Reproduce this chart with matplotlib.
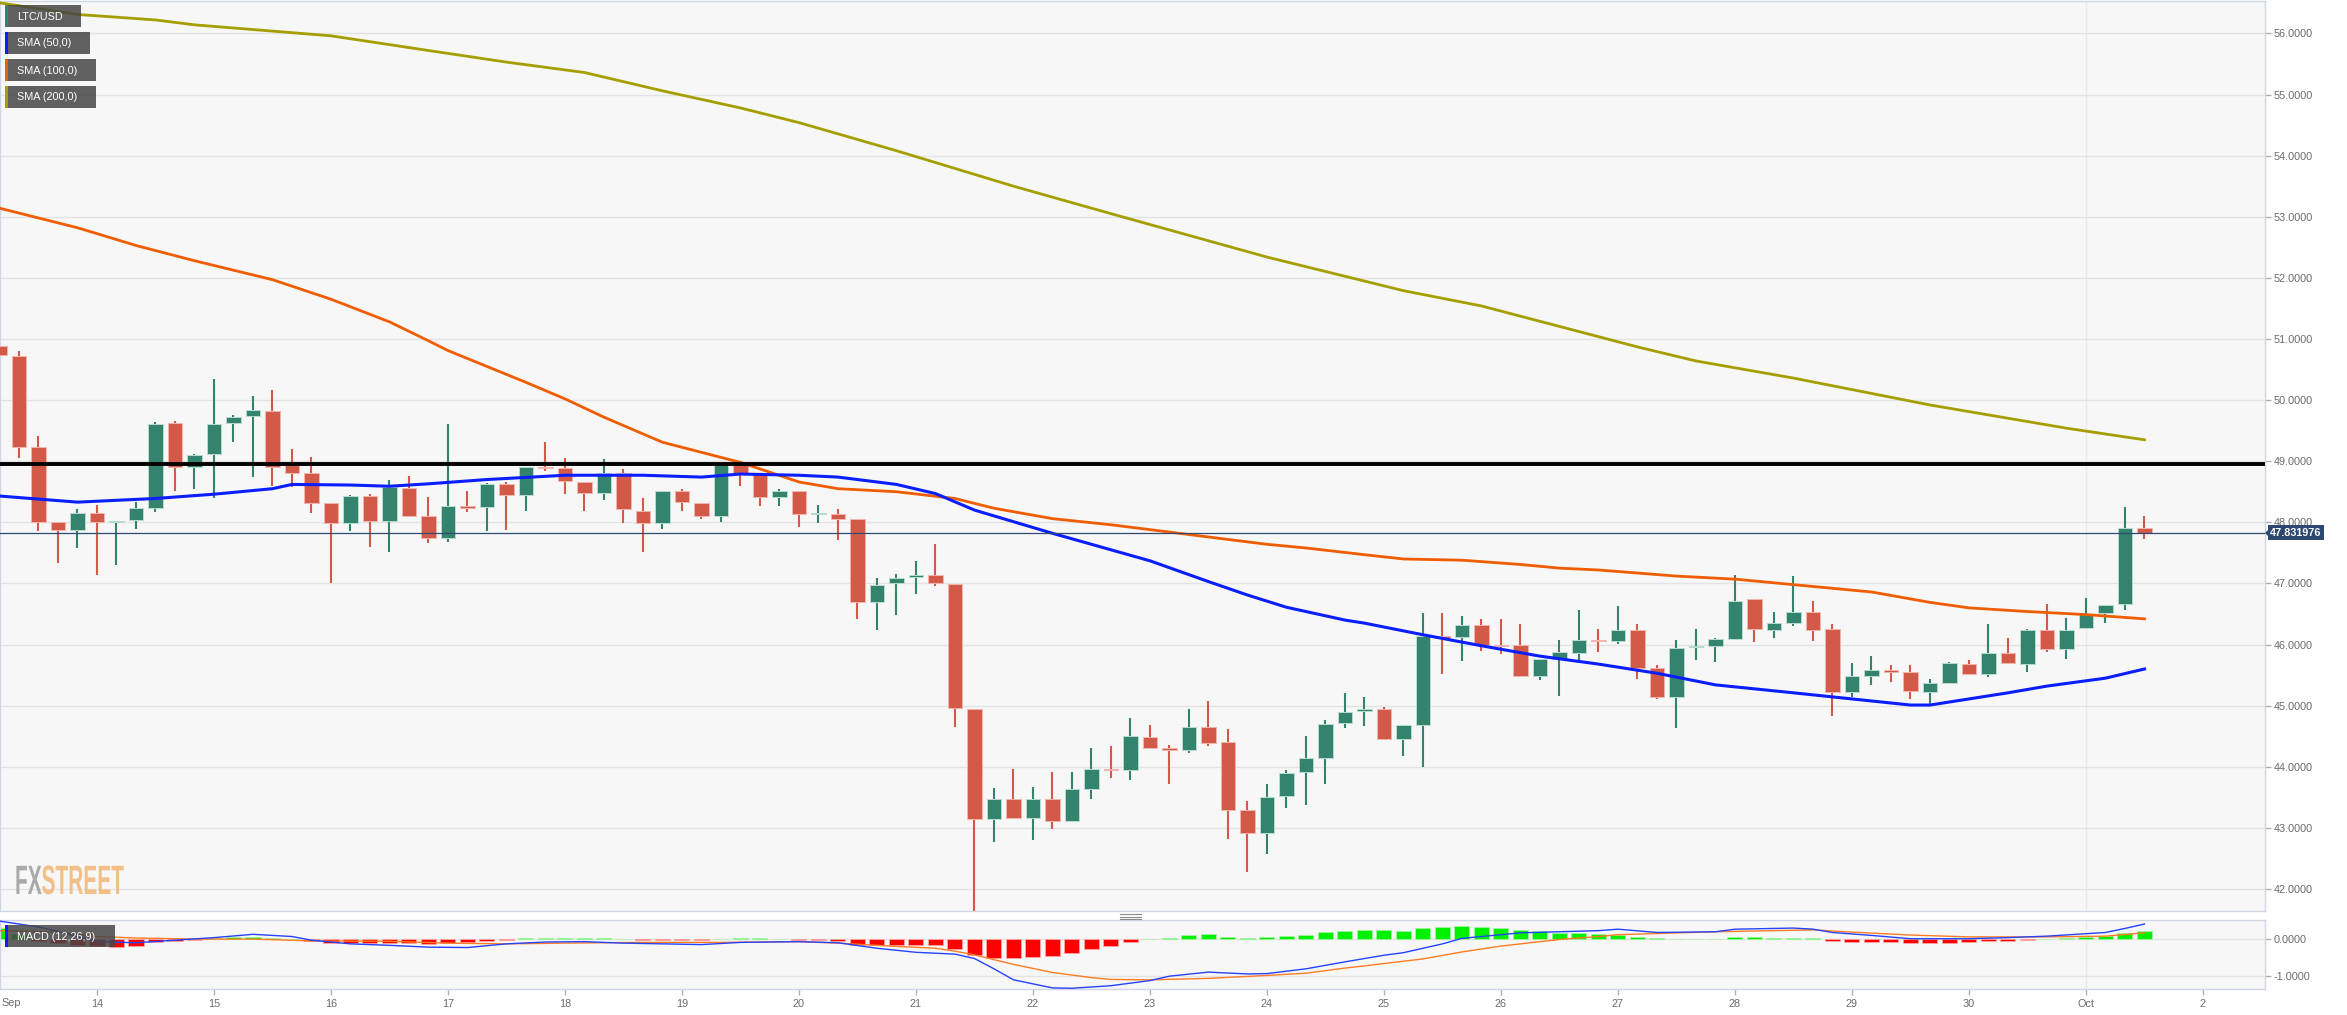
import matplotlib
matplotlib.use("Agg")
import matplotlib.pyplot as plt
from matplotlib.patches import Rectangle, Polygon, PathPatch
from matplotlib.textpath import TextPath
from matplotlib.font_manager import FontProperties
from matplotlib.transforms import Affine2D, blended_transform_factory
import numpy as np

# LTC/USD 4h candles, index 0 = Sep 13 04:00
opens = [50.89, 50.72, 49.24, 48.01, 47.87, 48.15, 48.00, 48.03, 48.24, 49.62,
         48.91, 49.12, 49.63, 49.74, 49.82, 48.96, 48.80, 48.31, 47.99, 48.43,
         48.02, 48.56, 48.10, 47.74, 48.26, 48.25, 48.63, 48.44, 48.91, 48.89,
         48.66, 48.48, 48.80, 48.19, 47.99, 48.52, 48.32, 48.10, 48.96, 48.79,
         48.42, 48.51, 48.13, 48.13, 48.06, 46.70, 47.00, 47.10, 47.14, 46.99,
         44.95, 43.14, 43.47, 43.16, 43.48, 43.12, 43.63, 43.97, 43.95, 44.49,
         44.30, 44.27, 44.65, 44.41, 43.29, 42.92, 43.52, 43.91, 44.14, 44.71,
         44.92, 44.95, 44.46, 44.68, 46.14, 46.12, 46.32, 46.00, 46.00, 45.48,
         45.77, 45.86, 46.08, 46.06, 46.23, 45.62, 45.14, 45.96, 45.97, 46.09,
         46.75, 46.24, 46.35, 46.53, 46.26, 45.23, 45.49, 45.59, 45.55, 45.22,
         45.37, 45.68, 45.51, 45.86, 45.68, 46.23, 45.93, 46.27, 46.51, 46.66,
         47.91]
highs = [50.96, 50.81, 49.42, 48.01, 48.21, 48.28, 48.02, 48.34, 49.64, 49.65,
         49.12, 50.34, 49.76, 50.07, 50.17, 49.20, 49.07, 48.31, 48.44, 48.47,
         48.70, 48.75, 48.41, 49.61, 48.51, 48.65, 48.66, 48.90, 49.32, 49.05,
         48.66, 49.03, 48.87, 48.39, 48.52, 48.55, 48.32, 48.96, 49.00, 48.79,
         48.55, 48.51, 48.28, 48.21, 48.06, 47.09, 47.15, 47.37, 47.64, 46.99,
         44.95, 43.66, 43.97, 43.67, 43.92, 43.92, 44.30, 44.34, 44.79, 44.68,
         44.35, 44.95, 45.08, 44.61, 43.44, 43.71, 43.94, 44.51, 44.77, 45.21,
         45.14, 44.98, 44.68, 46.52, 46.52, 46.47, 46.41, 46.42, 46.33, 45.77,
         46.08, 46.56, 46.26, 46.63, 46.34, 45.66, 46.08, 46.26, 46.11, 47.13,
         46.75, 46.53, 47.12, 46.72, 46.33, 45.69, 45.82, 45.66, 45.66, 45.44,
         45.71, 45.74, 46.34, 46.11, 46.26, 46.67, 46.44, 46.76, 46.65, 48.25,
         48.10]
lows = [50.55, 49.06, 47.86, 47.34, 47.58, 47.14, 47.30, 47.89, 48.17, 48.51,
        48.54, 48.40, 49.31, 48.74, 48.60, 48.58, 48.15, 47.00, 47.86, 47.60,
        47.52, 48.08, 47.66, 47.68, 48.17, 47.86, 47.87, 48.19, 48.84, 48.46,
        48.19, 48.36, 47.99, 47.52, 47.89, 48.19, 48.05, 48.01, 48.60, 48.27,
        48.27, 47.93, 47.99, 47.71, 46.41, 46.23, 46.49, 46.82, 46.96, 44.65,
        41.60, 42.77, 43.16, 42.80, 42.98, 43.12, 43.47, 43.81, 43.79, 44.30,
        43.71, 44.22, 44.34, 42.82, 42.27, 42.58, 43.32, 43.37, 43.71, 44.63,
        44.66, 44.46, 44.17, 43.99, 45.51, 45.73, 45.89, 45.84, 45.47, 45.42,
        45.16, 45.73, 45.87, 46.01, 45.44, 45.11, 44.63, 45.75, 45.71, 46.09,
        46.04, 46.10, 46.30, 46.06, 44.83, 45.14, 45.33, 45.39, 45.11, 44.99,
        45.35, 45.51, 45.47, 45.69, 45.55, 45.88, 45.77, 46.27, 46.35, 46.56,
        47.72]
closes = [50.73, 49.24, 48.01, 47.87, 48.15, 48.00, 48.02, 48.24, 49.61, 48.91,
          49.10, 49.61, 49.73, 49.83, 48.91, 48.80, 48.32, 47.99, 48.43, 48.02,
          48.58, 48.10, 47.75, 48.26, 48.24, 48.62, 48.44, 48.90, 48.89, 48.67,
          48.48, 48.80, 48.21, 47.99, 48.52, 48.33, 48.10, 48.96, 48.79, 48.42,
          48.51, 48.13, 48.16, 48.06, 46.70, 46.98, 47.09, 47.13, 47.00, 44.96,
          43.14, 43.47, 43.16, 43.48, 43.12, 43.63, 43.97, 43.95, 44.50, 44.30,
          44.27, 44.65, 44.39, 43.29, 42.92, 43.51, 43.89, 44.14, 44.70, 44.90,
          44.95, 44.46, 44.68, 46.14, 46.11, 46.32, 45.99, 45.98, 45.49, 45.77,
          45.87, 46.08, 46.06, 46.23, 45.62, 45.14, 45.94, 45.98, 46.09, 46.72,
          46.26, 46.35, 46.53, 46.24, 45.23, 45.49, 45.59, 45.55, 45.24, 45.37,
          45.70, 45.52, 45.86, 45.69, 46.23, 45.93, 46.24, 46.50, 46.65, 47.91,
          47.831976]

# moving averages (candle index, value)
sma50_idx = [0, 4, 8, 11, 14, 15, 18, 20, 22, 25, 29, 33, 36, 38, 41, 43, 46, 48, 50, 52, 54,
             57, 59, 62, 64, 66, 69, 70, 73, 76, 79, 82, 85, 88, 92, 95, 98, 99, 103, 105, 108, 110]
sma50_val = [48.43, 48.33, 48.39, 48.46, 48.55, 48.62, 48.61, 48.59, 48.63, 48.70, 48.77,
             48.77, 48.74, 48.79, 48.77, 48.74, 48.62, 48.47, 48.20, 48.01, 47.82, 47.55,
             47.37, 47.03, 46.81, 46.61, 46.40, 46.35, 46.16, 45.98, 45.81, 45.68, 45.53,
             45.34, 45.21, 45.11, 45.01, 45.01, 45.21, 45.32, 45.45, 45.60]
sma100_idx = [0, 4, 7, 10, 14, 17, 20, 22, 23, 27, 29, 31, 34, 38, 41, 43, 46, 49, 51, 54,
              57, 59, 62, 65, 67, 70, 72, 75, 78, 80, 82, 86, 89, 93, 96, 99, 101, 104, 107, 110]
sma100_val = [53.14, 52.82, 52.53, 52.28, 51.97, 51.65, 51.28, 50.97, 50.81, 50.29, 50.02,
              49.72, 49.31, 48.98, 48.66, 48.55, 48.50, 48.39, 48.23, 48.06, 47.96, 47.88,
              47.76, 47.64, 47.58, 47.47, 47.40, 47.38, 47.31, 47.25, 47.22, 47.12, 47.07,
              46.95, 46.86, 46.69, 46.60, 46.54, 46.49, 46.42]
sma200_idx = [0, 4, 8, 10, 17, 22, 26, 30, 34, 38, 41, 46, 52, 57, 65, 72, 76, 84, 87, 92,
              99, 106, 110]
sma200_val = [56.50, 56.31, 56.22, 56.14, 55.96, 55.72, 55.53, 55.36, 55.06, 54.78, 54.54,
              54.08, 53.50, 53.05, 52.34, 51.79, 51.54, 50.87, 50.64, 50.36, 49.92, 49.54, 49.35]

# MACD (12,26,9)
macd_hist = [0.30, 0.15, -0.03, -0.09, -0.14, -0.18, -0.20, -0.18, -0.07, -0.04,
             -0.02, 0.05, 0.07, 0.07, 0.04, 0.02, -0.05, -0.11, -0.10, -0.09,
             -0.09, -0.09, -0.12, -0.09, -0.06, -0.03, -0.01, 0.03, 0.05, 0.05,
             0.05, 0.04, 0.02, -0.01, -0.01, -0.02, -0.02, 0.02, 0.04, 0.03,
             0.02, -0.01, -0.02, -0.04, -0.14, -0.16, -0.16, -0.16, -0.15, -0.26,
             -0.43, -0.50, -0.50, -0.48, -0.45, -0.36, -0.26, -0.17, -0.06, 0.01,
             0.05, 0.11, 0.14, 0.08, 0.05, 0.06, 0.09, 0.12, 0.19, 0.24,
             0.27, 0.26, 0.24, 0.31, 0.35, 0.37, 0.34, 0.31, 0.26, 0.22,
             0.18, 0.17, 0.15, 0.11, 0.08, 0.03, 0.02, 0.02, 0.02, 0.07,
             0.06, 0.05, 0.05, 0.04, -0.05, -0.07, -0.08, -0.08, -0.09, -0.11,
             -0.09, -0.07, -0.05, -0.03, -0.01, 0.01, 0.04, 0.06, 0.09, 0.18,
             0.22]
macd_idx = [0, 2, 3, 5, 7, 9, 11, 13, 15, 16, 18, 20, 22, 24, 26, 28, 30, 32, 34, 36,
            38, 41, 43, 45, 47, 49, 50, 51, 52, 54, 55, 57, 59, 60, 62, 64, 65, 67, 69, 71,
            72, 74, 75, 78, 80, 82, 83, 85, 88, 89, 92, 93, 94, 96, 98, 101, 103, 105, 108, 109, 110]
macd_val = [0.50, 0.34, 0.22, -0.06, -0.09, -0.02, 0.05, 0.14, 0.08, -0.02,
            -0.12, -0.16, -0.21, -0.22, -0.12, -0.07, -0.06, -0.10, -0.12, -0.14,
            -0.08, -0.06, -0.09, -0.24, -0.35, -0.40, -0.52, -0.80, -1.10, -1.32,
            -1.33, -1.26, -1.12, -1.00, -0.89, -0.94, -0.93, -0.80, -0.61, -0.43,
            -0.36, -0.12, 0.03, 0.18, 0.21, 0.24, 0.28, 0.19, 0.21, 0.28,
            0.31, 0.28, 0.19, 0.11, 0.02, 0.02, 0.05, 0.09, 0.19, 0.30, 0.42]
signal_idx = [0, 3, 5, 7, 10, 13, 16, 20, 23, 26, 29, 33, 37, 41, 43, 46, 48, 49, 50, 52,
              54, 56, 57, 59, 62, 65, 67, 69, 70, 73, 75, 77, 80, 82, 83, 88, 93, 95, 98, 101,
              105, 108, 110]
signal_val = [0.24, 0.20, 0.08, 0.04, 0.01, 0.01, -0.04, -0.05, -0.10, -0.12,
              -0.10, -0.08, -0.08, -0.06, -0.10, -0.19, -0.24, -0.32, -0.42, -0.68,
              -0.90, -1.04, -1.09, -1.10, -1.06, -0.98, -0.92, -0.78, -0.72, -0.53,
              -0.34, -0.18, 0.00, 0.08, 0.13, 0.21, 0.26, 0.20, 0.12, 0.07,
              0.07, 0.09, 0.18]

day_ticks = [5, 11, 17, 23, 29, 35, 41, 47, 53, 59, 65, 71, 77, 83, 89, 95, 101, 107, 113]
day_labels = ['14', '15', '16', '17', '18', '19', '20', '21', '22', '23', '24', '25',
              '26', '27', '28', '29', '30', 'Oct', '2']
price_ticks = [42, 43, 44, 45, 46, 47, 48, 49, 50, 51, 52, 53, 54, 55, 56]
resistance = 48.96
last_price = 47.831976
legend_items = ['LTC/USD', 'SMA (50,0)', 'SMA (100,0)', 'SMA (200,0)']

W, H = 2347, 1015
GREEN = '#33836e'
RED = '#d35a49'
GRID = '#e3e3e3'
BORDER = '#cfd5e4'
TICKCOL = '#6b6b6b'
plt.rcParams['font.family'] = ['Liberation Sans', 'DejaVu Sans']


def fx(px):
    return px / W


def fy(py):
    return 1 - py / H


def fig_rect(fig, x0, y0, x1, y1, **kw):
    r = Rectangle((fx(x0), fy(y1)), fx(x1) - fx(x0), fy(y0) - fy(y1),
                  transform=fig.transFigure, **kw)
    fig.add_artist(r)
    return r


def create_chart():
    fig = plt.figure(figsize=(W / 100, H / 100), dpi=100, facecolor='white')

    # ---------------- price panel ----------------
    ax = fig.add_axes([0, fy(911), fx(2265), 910 / H])
    ax.set_facecolor('#f7f7f7')
    ax.set_xlim(0.026, 116.18)
    ax.set_ylim(41.64, 56.53)
    ax.yaxis.tick_right()
    ax.set_yticks(price_ticks)
    ax.set_yticklabels(['%.4f' % p for p in price_ticks])
    ax.set_xticks([])
    ax.tick_params(axis='y', direction='out', length=4, width=1, color='#b0b0b0',
                   labelcolor=TICKCOL, labelsize=7.8, pad=2)
    ax.grid(axis='y', color=GRID, lw=1)
    ax.axvline(107, color='#e9e9ee', lw=1, zorder=0.5)
    for s in ax.spines.values():
        s.set_color(BORDER)
        s.set_linewidth(1)

    x = np.arange(len(opens))
    o = np.array(opens)
    c = np.array(closes)
    up = c >= o
    cols = np.where(up, GREEN, RED)
    edges = np.where(up, '#b7dccf', '#f2b6ad')
    ax.vlines(x, lows, highs, colors=cols, lw=1.5, zorder=2)
    ax.bar(x, np.abs(c - o), bottom=np.minimum(o, c), width=0.74, color=cols,
           edgecolor=edges, linewidth=0.7, zorder=3)

    ax.plot(sma200_idx, sma200_val, color='#a69e00', lw=2.0, zorder=4)
    ax.plot(sma100_idx, sma100_val, color='#ef5d00', lw=2.0, zorder=4)
    ax.plot(sma50_idx, sma50_val, color='#0a1eff', lw=2.2, zorder=4)

    ax.axhline(resistance, color='black', lw=2.8, zorder=5)
    ax.axhline(last_price, color='#2d4b73', lw=0.9, zorder=5)

    trans = blended_transform_factory(ax.transAxes, ax.transData)
    ax.text(1.0022, last_price, '%.6f' % last_price, transform=trans, ha='left', va='center',
            color='white', fontsize=7.8, fontweight='bold', clip_on=False, zorder=6,
            bbox=dict(boxstyle='square,pad=0.22', fc='#2c4770', ec='none'))

    # legend labels top-left
    stripe_cols = [GREEN, '#0a1eff', '#ef5d00', '#a69e00']
    widths = [81, 90, 96, 96]
    for k, (label, sc, wdt) in enumerate(zip(legend_items, stripe_cols, widths)):
        top = 5 + 27 * k
        fig_rect(fig, 5, top, wdt, top + 22, fc='#454545', ec='none', alpha=0.85, zorder=10)
        fig_rect(fig, 5, top, 7.5, top + 22, fc=sc, ec='none', zorder=11)
        fig.text(fx(17), fy(top + 11.5), label, color='white', fontsize=7.8,
                 ha='left', va='center', zorder=12)

    # FXSTREET watermark (condensed)
    fp = FontProperties(family='Liberation Sans', weight='bold')
    x0 = 15
    for txt, col in [('FX', '#9c9c9c'), ('STREET', '#f1b574')]:
        tp = TextPath((0, 0), txt, size=1, prop=fp)
        ext = tp.get_extents()
        tr = Affine2D().scale(20.9, 41).translate(x0, H - 894)
        fig.add_artist(PathPatch(tp, transform=tr, fc=col, ec='none', alpha=0.85, zorder=3))
        x0 += ext.x1 * 20.9

    # ---------------- MACD panel ----------------
    ax2 = fig.add_axes([0, fy(989), fx(2265), 69 / H])
    ax2.set_facecolor('#f7f7f7')
    ax2.set_xlim(0.026, 116.18)
    ax2.set_ylim(-1.35, 0.53)
    ax2.yaxis.tick_right()
    ax2.set_yticks([0, -1])
    ax2.set_yticklabels(['0.0000', '-1.0000'])
    ax2.set_xticks(day_ticks)
    ax2.set_xticklabels(day_labels)
    ax2.tick_params(axis='both', direction='out', length=4, width=1, color='#b0b0b0',
                    labelcolor=TICKCOL, labelsize=7.8, pad=3)
    ax2.tick_params(axis='y', pad=2)
    ax2.grid(axis='y', color=GRID, lw=1)
    ax2.axvline(107, color='#e9e9ee', lw=1, zorder=0.5)
    for s in ax2.spines.values():
        s.set_color(BORDER)
        s.set_linewidth(1)

    hist = np.array(macd_hist)
    hcols = np.where(hist >= 0, '#00f000', '#ff0000')
    hedges = np.where(hist >= 0, '#a8f5a8', '#ffb0b0')
    ax2.bar(x, hist, width=0.77, color=hcols, edgecolor=hedges, linewidth=0.5, zorder=2)
    ax2.plot(signal_idx, signal_val, color='#ff7c22', lw=1.0, zorder=3)
    ax2.plot(macd_idx, macd_val, color='#2443ff', lw=1.0, zorder=3)

    fig_rect(fig, 5, 925, 115, 947, fc='#454545', ec='none', alpha=0.85, zorder=10)
    fig_rect(fig, 5, 925, 7.5, 947, fc='#0a1eff', ec='none', zorder=11)
    fig.text(fx(17), fy(936.5), 'MACD (12,26,9)', color='white', fontsize=7.8,
             ha='left', va='center', zorder=12)

    fig.text(fx(1), fy(1003), 'Sep', color=TICKCOL, fontsize=7.8, ha='left', va='center')

    # panel resize handle
    for yy in (914, 916.5, 919):
        fig.add_artist(plt.Line2D([fx(1120), fx(1141)], [fy(yy), fy(yy)],
                                  transform=fig.transFigure, color='#8a8a8a', lw=0.8))

    # little arrow of the price tag
    fig.add_artist(Polygon([[fx(2265), fy(533)], [fx(2269), fy(529)], [fx(2269), fy(537)]],
                           closed=True, transform=fig.transFigure, fc='#2c4770', ec='none'))

    fig.savefig('out.png', dpi=100, facecolor='white')


if __name__ == '__main__':
    create_chart()
